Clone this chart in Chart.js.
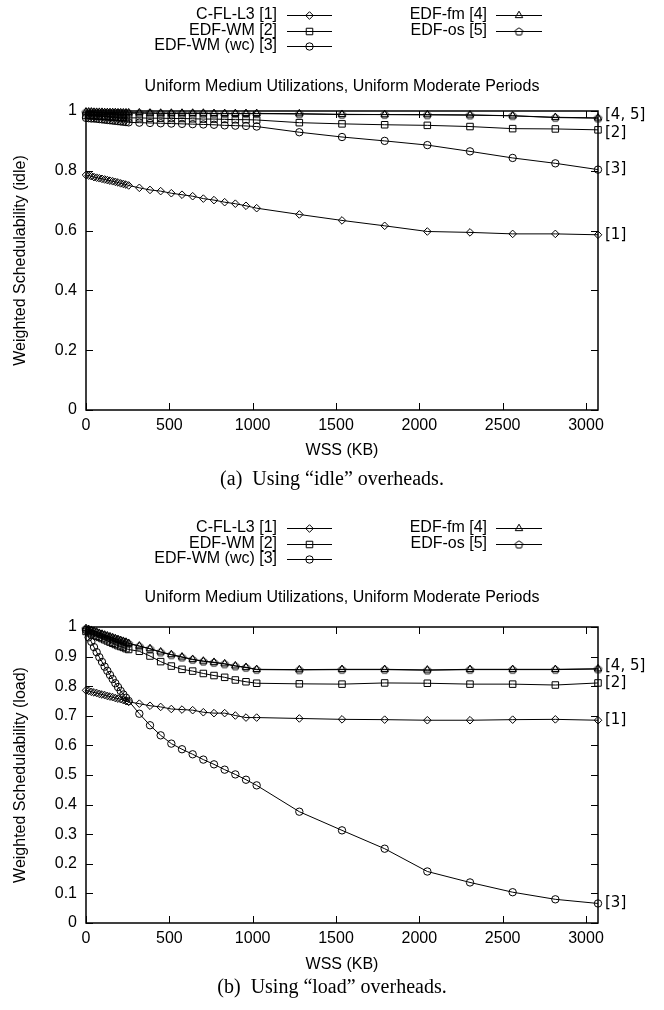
<!DOCTYPE html>
<html>
<head>
<meta charset="utf-8">
<title>Weighted Schedulability vs WSS</title>
<script src="https://cdn.jsdelivr.net/npm/chart.js@4.4.1/dist/chart.umd.min.js"></script>
<style>
    html, body { margin: 0; padding: 0; background: #fff; }
    #page { position: relative; width: 664px; height: 1010px; }
    canvas { position: absolute; left: 0; }
    .caption {
        position: absolute; left: 0; width: 664px; text-align: center;
        font: 20px "Liberation Serif", "Times New Roman", serif; color: #000;
    }
</style>
</head>
<body>
<div id="page">
    <canvas id="idle" width="664" height="470" style="top:0"></canvas>
    <div class="caption" style="top:467px">(a)&nbsp; Using “idle” overheads.</div>
    <canvas id="load" width="664" height="500" style="top:480px"></canvas>
    <div class="caption" style="top:975px">(b)&nbsp; Using “load” overheads.</div>
</div>
<script>
// working set sizes (KB)
const wss = [0, 16, 32, 48, 64, 80, 96, 112, 128, 144, 160, 176, 192, 208, 224, 240, 256,
    320, 384, 448, 512, 576, 640, 704, 768, 832, 896, 960, 1024,
    1280, 1536, 1792, 2048, 2304, 2560, 2816, 3072];
const xTicks = [0, 500, 1000, 1500, 2000, 2500, 3000];

const names = ['C-FL-L3 [1]', 'EDF-WM [2]', 'EDF-WM (wc) [3]', 'EDF-fm [4]', 'EDF-os [5]'];
const chartTitle = 'Uniform Medium Utilizations, Uniform Moderate Periods';
const xTitle = 'WSS (KB)';

// (a) idle overheads
const cflIdle = [0.786, 0.784, 0.782, 0.779, 0.777, 0.775, 0.773, 0.771, 0.769, 0.767, 0.765, 0.763, 0.761, 0.758, 0.756, 0.754, 0.751,
    0.743, 0.736, 0.732, 0.725, 0.720, 0.715, 0.707, 0.702, 0.695, 0.690, 0.683, 0.675,
    0.654, 0.634, 0.616, 0.597, 0.594, 0.589, 0.589, 0.586];
const wmIdle = [0.985, 0.985, 0.984, 0.984, 0.983, 0.983, 0.982, 0.982, 0.981, 0.981, 0.980, 0.980, 0.979, 0.979, 0.978, 0.978, 0.977,
    0.977, 0.976, 0.976, 0.975, 0.975, 0.974, 0.973, 0.973, 0.972, 0.971, 0.971, 0.970,
    0.961, 0.957, 0.954, 0.952, 0.948, 0.941, 0.940, 0.937];
const wmWcIdle = [0.977, 0.976, 0.975, 0.975, 0.974, 0.973, 0.972, 0.971, 0.970, 0.969, 0.968, 0.967, 0.966, 0.965, 0.964, 0.963, 0.962,
    0.961, 0.960, 0.959, 0.958, 0.957, 0.956, 0.955, 0.954, 0.952, 0.951, 0.950, 0.948,
    0.929, 0.913, 0.900, 0.886, 0.865, 0.843, 0.825, 0.804];
const fmIdle = [0.997, 0.997, 0.997, 0.996, 0.996, 0.996, 0.996, 0.995, 0.995, 0.995, 0.995, 0.995, 0.994, 0.994, 0.994, 0.994, 0.994,
    0.994, 0.993, 0.993, 0.993, 0.993, 0.993, 0.993, 0.992, 0.992, 0.992, 0.992, 0.992,
    0.991, 0.989, 0.988, 0.988, 0.987, 0.984, 0.979, 0.977];
const osIdle = [0.996, 0.996, 0.996, 0.996, 0.995, 0.995, 0.995, 0.995, 0.995, 0.994, 0.994, 0.994, 0.994, 0.994, 0.993, 0.993, 0.993,
    0.993, 0.993, 0.992, 0.992, 0.992, 0.992, 0.992, 0.991, 0.991, 0.991, 0.991, 0.991,
    0.990, 0.988, 0.988, 0.987, 0.986, 0.984, 0.978, 0.976];

// (b) load overheads
const cflLoad = [0.786, 0.784, 0.781, 0.779, 0.777, 0.774, 0.772, 0.770, 0.767, 0.765, 0.763, 0.760, 0.758, 0.756, 0.753, 0.750, 0.747,
    0.741, 0.734, 0.730, 0.723, 0.721, 0.719, 0.712, 0.709, 0.709, 0.701, 0.694, 0.694,
    0.691, 0.688, 0.687, 0.685, 0.685, 0.687, 0.688, 0.685];
const wmLoad = [0.985, 0.981, 0.977, 0.973, 0.969, 0.965, 0.961, 0.957, 0.953, 0.949, 0.945, 0.941, 0.937, 0.934, 0.931, 0.927, 0.924,
    0.918, 0.902, 0.883, 0.868, 0.857, 0.851, 0.843, 0.836, 0.830, 0.821, 0.815, 0.810,
    0.808, 0.807, 0.811, 0.810, 0.807, 0.807, 0.804, 0.811];
const wmWcLoad = [0.990, 0.965, 0.950, 0.932, 0.915, 0.898, 0.882, 0.866, 0.852, 0.838, 0.824, 0.810, 0.797, 0.784, 0.772, 0.761, 0.750,
    0.707, 0.668, 0.634, 0.606, 0.587, 0.570, 0.552, 0.536, 0.518, 0.502, 0.484, 0.465,
    0.376, 0.313, 0.251, 0.174, 0.137, 0.104, 0.080, 0.066];
const fmLoad = [0.995, 0.992, 0.989, 0.986, 0.983, 0.979, 0.976, 0.973, 0.970, 0.967, 0.964, 0.961, 0.958, 0.955, 0.952, 0.949, 0.945,
    0.936, 0.927, 0.916, 0.907, 0.899, 0.891, 0.885, 0.881, 0.876, 0.869, 0.864, 0.857,
    0.856, 0.857, 0.857, 0.855, 0.857, 0.857, 0.857, 0.859];
const osLoad = [0.994, 0.991, 0.988, 0.985, 0.982, 0.978, 0.975, 0.972, 0.969, 0.966, 0.963, 0.960, 0.957, 0.954, 0.951, 0.948, 0.944,
    0.935, 0.926, 0.915, 0.906, 0.898, 0.890, 0.884, 0.880, 0.875, 0.868, 0.863, 0.856,
    0.855, 0.856, 0.856, 0.854, 0.856, 0.856, 0.856, 0.858];

// labels at the right end of the curves: text, dataset index, nudge (px)
const idleEndLabels = [['[4, 5]', 3, -3], ['[2]', 1, 3], ['[3]', 2, 0], ['[1]', 0, 0]];
const loadEndLabels = [['[4, 5]', 3, -3], ['[2]', 1, 0], ['[1]', 0, 0], ['[3]', 2, 0]];

Chart.defaults.font.family = '"Liberation Sans", Arial, sans-serif';
Chart.defaults.font.size = 16;
Chart.defaults.color = '#000';

function pentagon() {
    const c = document.createElement('canvas');
    c.width = 11; c.height = 11;
    const g = c.getContext('2d');
    g.strokeStyle = '#000';
    g.lineWidth = 1;
    g.beginPath();
    for (let i = 0; i < 5; i++) {
        const a = -Math.PI / 2 + i * 2 * Math.PI / 5;
        const px = 5.5 + 4 * Math.cos(a), py = 5.8 + 4 * Math.sin(a);
        if (i) g.lineTo(px, py); else g.moveTo(px, py);
    }
    g.closePath();
    g.stroke();
    return c;
}

const marks = [
    { style: 'rectRot', r: 3.8 },
    { style: 'rect', r: 4.6 },
    { style: 'circle', r: 3.7 },
    { style: 'triangle', r: 4.3 },
    { style: pentagon(), r: 4 }
];

function makeSets(series) {
    return series.map((vals, i) => ({
        label: names[i],
        data: wss.map((x, k) => ({ x, y: vals[k] })),
        borderColor: '#000',
        borderWidth: 1,
        pointStyle: marks[i].style,
        pointRadius: marks[i].r,
        pointBorderColor: '#000',
        pointBackgroundColor: 'rgba(0,0,0,0)',
        pointBorderWidth: 1,
        tension: 0,
        fill: false,
        clip: false
    }));
}

// gnuplot-like frame: box, inward mirrored ticks, key, titles, end labels
const gnuplotFrame = {
    id: 'gnuplotFrame',
    beforeDatasetsDraw(chart) {
        const { ctx, chartArea: a, scales: { x, y } } = chart;
        ctx.save();
        ctx.strokeStyle = '#000';
        ctx.lineWidth = 1;
        ctx.beginPath();
        x.ticks.forEach(t => {
            const px = Math.round(x.getPixelForValue(t.value)) + 0.5;
            ctx.moveTo(px, a.bottom); ctx.lineTo(px, a.bottom - 7);
            ctx.moveTo(px, a.top); ctx.lineTo(px, a.top + 7);
        });
        y.ticks.forEach(t => {
            const py = Math.round(y.getPixelForValue(t.value)) + 0.5;
            ctx.moveTo(a.left, py); ctx.lineTo(a.left + 7, py);
            ctx.moveTo(a.right, py); ctx.lineTo(a.right - 7, py);
        });
        ctx.stroke();
        ctx.lineWidth = 1.5;
        ctx.strokeRect(a.left, a.top, a.right - a.left, a.bottom - a.top);
        ctx.restore();
    },
    afterDraw(chart, args, o) {
        const { ctx, chartArea: a, scales: { y } } = chart;
        const cx = (a.left + a.right) / 2;
        ctx.save();
        ctx.fillStyle = '#000';
        ctx.strokeStyle = '#000';
        ctx.textBaseline = 'middle';
        ctx.font = '16px "Liberation Sans", Arial, sans-serif';
        ctx.textAlign = 'center';
        ctx.fillText(chartTitle, cx, o.titleY);
        ctx.fillText(xTitle, cx, o.xTitleY);

        // key
        const cols = [{ tr: 277, x0: 287, x1: 332 }, { tr: 487, x0: 496, x1: 542 }];
        chart.data.datasets.forEach((ds, i) => {
            const col = cols[i < 3 ? 0 : 1];
            const yy = o.keyTop + (i < 3 ? i : i - 3) * 15.5;
            ctx.textAlign = 'right';
            ctx.fillStyle = '#000';
            ctx.fillText(ds.label, col.tr, yy);
            ctx.lineWidth = 1;
            ctx.beginPath();
            ctx.moveTo(col.x0, Math.round(yy) + 0.5);
            ctx.lineTo(col.x1, Math.round(yy) + 0.5);
            ctx.stroke();
            ctx.fillStyle = 'rgba(0,0,0,0)';
            Chart.helpers.drawPoint(ctx, {
                pointStyle: ds.pointStyle, radius: ds.pointRadius, rotation: 0, borderWidth: 1
            }, (col.x0 + col.x1) / 2, Math.round(yy) + 0.5);
        });

        // labels at curve ends
        ctx.fillStyle = '#000';
        ctx.textAlign = 'left';
        ctx.font = '15px "DejaVu Sans", sans-serif';
        o.endLabels.forEach(([text, di, dy]) => {
            const pts = chart.data.datasets[di].data;
            ctx.fillText(text, a.right + 7, y.getPixelForValue(pts[pts.length - 1].y) + dy);
        });
        ctx.restore();
    }
};

function makeChart(id, series, yTitle, yStep, top, frame) {
    const canvas = document.getElementById(id);
    const h = canvas.height;
    return new Chart(canvas, {
        type: 'line',
        data: { datasets: makeSets(series) },
        plugins: [gnuplotFrame],
        options: {
            responsive: false,
            animation: false,
            devicePixelRatio: 1,
            events: [],
            layout: { padding: { top: top, right: 66, left: 0, bottom: 0 } },
            plugins: {
                legend: { display: false },
                tooltip: { enabled: false },
                gnuplotFrame: frame
            },
            scales: {
                x: {
                    type: 'linear',
                    min: 0,
                    max: 3072,
                    grid: { display: false, drawTicks: false },
                    border: { display: false },
                    ticks: { padding: 6, maxRotation: 0, font: { size: 16 }, callback: v => String(v) },
                    afterBuildTicks(scale) { scale.ticks = xTicks.map(v => ({ value: v })); },
                    afterFit(scale) { scale.height = h - frame.plotBottom; }
                },
                y: {
                    min: 0,
                    max: 1,
                    grid: { display: false, drawTicks: false },
                    border: { display: false },
                    ticks: { stepSize: yStep, padding: 9, font: { size: 16 }, callback: v => String(Number(v.toFixed(2))) },
                    title: { display: true, text: yTitle, font: { size: 16 }, padding: { top: 11, bottom: 0 } },
                    afterFit(scale) { scale.width = 86; }
                }
            }
        }
    });
}

makeChart('idle', [cflIdle, wmIdle, wmWcIdle, fmIdle, osIdle],
    'Weighted Schedulability (idle)', 0.2, 111,
    { titleY: 87, xTitleY: 451, keyTop: 15, plotBottom: 410, endLabels: idleEndLabels });

makeChart('load', [cflLoad, wmLoad, wmWcLoad, fmLoad, osLoad],
    'Weighted Schedulability (load)', 0.1, 147,
    { titleY: 118, xTitleY: 485, keyTop: 48, plotBottom: 443, endLabels: loadEndLabels });
</script>
</body>
</html>
